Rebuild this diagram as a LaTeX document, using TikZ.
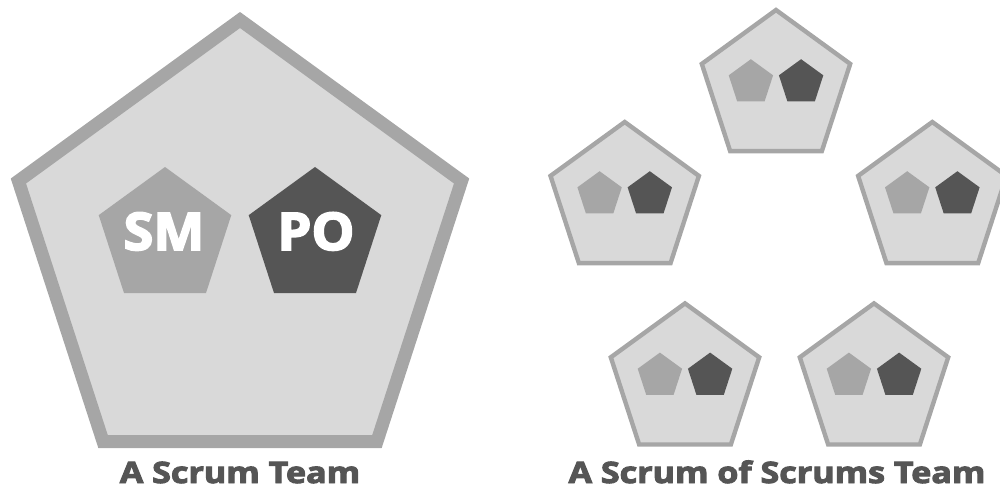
\documentclass[tikz,border=0pt]{standalone}
\usepackage{fontspec}
\setmainfont{Open Sans}
\newfontfamily\heavyfont{Open Sans}[FakeBold=3.2]
\definecolor{teamfill}{HTML}{D9D9D9}
\definecolor{teamline}{HTML}{A6A6A6}
\definecolor{smcol}{HTML}{A6A6A6}
\definecolor{pocol}{HTML}{555555}
\definecolor{captioncol}{HTML}{555555}
\tikzset{
  teambody/.style={fill=teamfill, draw=teamline, line join=miter},
  smshape/.style={fill=smcol},
  poshape/.style={fill=pocol},
  rolelabel/.style={anchor=base, text=white, xscale=1.04, font=\heavyfont\bfseries\fontsize{52}{52}\selectfont, inner sep=0pt},
  caption/.style={anchor=base, text=captioncol, xscale=1.155, font=\heavyfont\bfseries\fontsize{29.5}{30}\selectfont, inner sep=0pt}
}
\newcommand{\pentagonpath}[1]{(270:#1) -- (342:#1) -- (54:#1) -- (126:#1) -- (198:#1) -- cycle}
\newcommand{\scrumteam}[4]{%
  \begin{scope}[shift={(#1,#2)}]
    \path[teambody, line width=#4] \pentagonpath{233*#3};
    \begin{scope}[shift={(-75*#3,-16.3*#3)}]
      \fill[smshape] \pentagonpath{69.7*#3};
    \end{scope}
    \begin{scope}[shift={(75*#3,-16.3*#3)}]
      \fill[poshape] \pentagonpath{69.7*#3};
    \end{scope}
  \end{scope}}
\begin{document}
\begin{tikzpicture}[x=1pt, y=-1pt]
  \useasboundingbox (0,0) rectangle (1000,489);
  \clip (0,0) rectangle (1000,489);
  % Single Scrum team
  \scrumteam{240}{253}{1}{13pt}
  \node[rolelabel] (sm) at (164,250) {SM};
  \node[rolelabel] (po) at (316,250) {PO};
  \node[caption] (cap1) at (240,483) {A Scrum Team};
  % Scrum of Scrums
  \scrumteam{776}{88}{0.3348}{4.4pt}
  \scrumteam{624.7}{200}{0.3348}{4.4pt}
  \scrumteam{932.3}{200}{0.3348}{4.4pt}
  \scrumteam{685}{381.4}{0.3348}{4.4pt}
  \scrumteam{874}{381.4}{0.3348}{4.4pt}
  \node[caption] (cap2) at (777,483) {A Scrum of Scrums Team};
\end{tikzpicture}
\end{document}
